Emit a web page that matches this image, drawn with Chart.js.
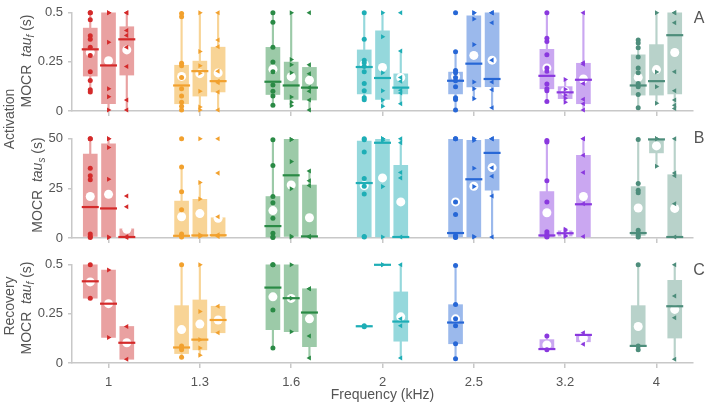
<!DOCTYPE html>
<html lang="en">
<head>
<meta charset="UTF-8">
<title>MOCR time constants by frequency</title>
<script src="https://cdn.jsdelivr.net/npm/chart.js"></script>
<style>
  body { margin: 0; background: #fff; font-family: "Liberation Sans", Arial, sans-serif; color: #555; }
  #wrap { position: relative; width: 708px; height: 407px; overflow: hidden; }
  .panel { position: absolute; left: 0; width: 708px; }
  .ytitle { position: absolute; white-space: nowrap; font-size: 14px; transform: translate(-50%, -50%) rotate(-90deg); }
  .ytitle sub { font-size: 10px; }
  .tag { position: absolute; font-size: 16px; transform: translate(-50%, -50%); }
</style>
</head>
<body>
<div id="wrap">
  <div class="panel" style="top:0;height:125px"><canvas id="chartA"></canvas></div>
  <div class="panel" style="top:126px;height:126px"><canvas id="chartB"></canvas></div>
  <div class="panel" style="top:252px;height:155px"><canvas id="chartC"></canvas></div>

  <div class="ytitle" style="left:9px;top:119px">Activation</div>
  <div class="ytitle" style="left:27px;top:61px">MOCR&nbsp;&nbsp;<i>tau<sub>f</sub></i> (s)</div>
  <div class="ytitle" style="left:38px;top:185px">MOCR&nbsp;&nbsp;<i>tau<sub>s</sub></i> (s)</div>
  <div class="ytitle" style="left:9px;top:306px">Recovery</div>
  <div class="ytitle" style="left:27px;top:308px">MOCR&nbsp;&nbsp;<i>tau<sub>f</sub></i> (s)</div>

  <div class="tag" style="left:699px;top:18px">A</div>
  <div class="tag" style="left:699px;top:138px">B</div>
  <div class="tag" style="left:699px;top:270px">C</div>
</div>

<script>
const freqLabels = ['1', '1.3', '1.6', '2', '2.5', '3.2', '4'];
const darkColors = ['#d42a2a', '#f2a12e', '#2a8a45', '#1eaeb6', '#2767d6', '#8a38de', '#4d8d7b'];
const lightColors = ['#e9a1a1', '#f8d496', '#9ccaa8', '#95d8dc', '#9bb9ec', '#caa7f1', '#b8d2ca'];
// three boxes per frequency: circles, right triangles, left triangles
const slotOffsets = [-0.2, 0, 0.2];

// ---- panel A: activation tau_f (s) ----  index = freq*3 + slot
const aQ1   = [.178,.037,.183, .037,.076,.097, .084,.059,.056, .087,.059,.087, .087,.122,.124, .113,.063,.037, .081,.081,.087];
const aQ3   = [.422,.5,.429,   .233,.254,.325, .324,.249,.222, .311,.408,.189, .198,.484,.5,   .314,.124,.243, .286,.338,.5];
const aMed  = [.314,.232,.365, .13,.203,.152,  .149,.13,.119,  .224,.168,.119, .154,.241,.163, .179,.095,.159, .13,.152,.386];
const aMean = [.298,.256,.311, .176,.19,.194,  .213,.175,.157, .238,.222,.17,  .176,.283,.259, .219,.1,.163,   .171,.211,.298];
const aLo   = [.1,0,.005,      .005,.005,.005, .029,.024,.005, .052,.024,.037, .005,.063,.017, .048,.044,0,    .017,.04,.008];
const aHi   = [.5,.5,.5,       .5,.5,.5,       .5,.5,.235,     .5,.5,.306,     .302,.5,.5,     .5,.16,.5,      .362,.5,.5];
const aPts = [
  [.5,.5,.465,.383,.365,.325,.283,.2,.155,.108,.097], [.5,.5,.35,.113,.073,.005], [.5,.5,.41,.385,.325,.227,.056,.005],
  [.497,.48,.243,.23,.171,.113,.076,.044,.024,.005], [.5,.303,.23,.192,.1,.02,.005], [.5,.362,.327,.203,.152,.144,.097,.005],
  [.5,.452,.325,.25,.2,.132,.1,.076,.029], [.5,.262,.235,.195,.071,.044,.027], [.5,.235,.19,.119,.1,.056,.005],
  [.5,.365,.259,.246,.227,.2,.14,.103,.068,.057], [.5,.378,.195,.103,.056,.024], [.5,.306,.171,.152,.106,.092,.037],
  [.5,.302,.206,.195,.171,.154,.124,.068,.059,.005], [.5,.5,.468,.338,.148,.113,.063], [.5,.5,.5,.449,.259,.148,.108,.017],
  [.5,.37,.354,.287,.219,.203,.137,.113,.103,.048], [.16,.111,.081,.065,.044], [.5,.246,.238,.14,.06,.037,.005],
  [.362,.346,.322,.275,.219,.195,.14,.124,.084,.017], [.5,.198,.124,.04], [.5,.5,.449,.2,.103,.056,.029,.013]
];

// ---- panel B: activation tau_s (s) ----
const bQ1   = [.8,.5,.5,      .5,.5,.5,       .5,.8,.8,        .5,.5,.5,       .5,.5,24.1,      .5,1,.5,       1.3,42.9,.5];
const bQ3   = [42.3,47.5,4.6, 18.6,19.5,10.2, 20.9,49.7,26.7,  48.9,49.7,36.6, 49.7,49.2,49.7, 23.4,3.6,41.7, 25.9,49.7,31.9];
const bMed  = [15.6,14.9,.5,  1.1,1.3,1.4,    6,31.6,.8,       27.7,48,.5,     2.5,29.6,42.9,  1.3,2.4,17,    2.5,49.7,.5];
const bMean = [20.9,22,4.4,   10.7,12.3,9.9,  13.8,26.7,10.2,  26.4,30.3,18.2, 18.2,26.1,35.5, 12.7,2.4,20.9, 15.1,46.4,14.9];
const bLo   = [0,0,0,         0,0,0,          0,0,0,           0,0,0,          0,0,.5,         0,.5,0,        0,36.2,0];
const bHi   = [50,50,4.6,     35.8,28.5,10.2, 49.5,50,33.8,    50,50,50,       50,50,50,       49.2,4.4,50,   49.7,49.7,50];
const bPts = [
  [50,50,35.1,31.4,29.4,2,.8,.2], [50,50,45.6,29.6,.5,.2], [21.2,15.7,.8,.3],
  [50,35.8,23.3,14.3,2,1.3,.5], [50,28,19.7,1.6,.8], [50,32.7,10.7,1.6,.8],
  [49.5,36.6,20.9,17.8,9.9,2.4,.5,.2], [49.7,49.7,38.5,24.8,.9,.5], [33.8,28.8,26.4,.9,.5],
  [50,49.5,43.4,30,26.1,22.2,.8,.5], [50,50,50,49.2,25.9,.5], [50,48,33,30.3,.5],
  [50,50,18.2,11.8,1.3,.5,.2], [50,50,49.2,35.1,25.9,.8,.5], [50,50,50,35.4,31.1,21.2,.5],
  [49.2,48.4,28.8,18.2,3.1,2,.8,.5], [4.4,3.6,1.3,.8], [50,50,41.7,33,17.3,.8],
  [49.7,27.5,24.1,22.8,3.9,2.4,1.3,.5], [50,50,50,36.2], [50,32.7,31.4,17.3,.5]
];

// ---- panel C: recovery tau_f (s) ----  null = no data for that box
const cQ1   = [.33,.13,.019,  .048,.067,.154, .17,.159,.083,  .185,.5,.111,  .098,null,null, .071,null,.108, .087,null,.127];
const cQ3   = [.5,.473,.186,  .292,.321,.289, .5,.5,.378,     .19,.5,.362,   .297,null,null, .119,null,.143, .292,null,.421];
const cMed  = [.416,.302,.103, .079,.119,.219, .384,.33,.257, .187,.5,.211,  .206,null,null, .071,null,.143, .087,null,.289];
const cMean = [.413,.302,.103, .17,.198,.219,  .337,.329,.225, .187,.5,.235, .225,null,null, .092,null,.127, .186,null,.273];
const cLo   = [.33,.13,.019,  .029,.04,.154,  .076,.159,.025, .185,.5,.025,  .022,null,null, .067,null,.095, .067,null,.019];
const cHi   = [.5,.473,.186,  .5,.5,.289,     .5,.5,.378,     .19,.5,.5,     .497,null,null, .138,null,.154, .5,null,.5];
const cPts = [
  [.5,.33], [.473,.13], [.186,.019],
  [.5,.087,.076,.067,.029], [.5,.262,.119,.076,.04], [.289,.154],
  [.5,.5,.27,.076], [.5,.33,.159], [.378,.378,.138,.025],
  [.19,.185], [.5,.5], [.5,.225,.19,.025],
  [.497,.298,.225,.19,.098,.022], [], [],
  [.138,.067], [], [.154,.095],
  [.5,.087,.067], [], [.5,.341,.23,.019]
];

function buildDatasets(q1, q3, med, mean, lo, hi, pts) {
  const whisk = [], boxes = [], meds = [], means = [], dots = [];
  const whiskCol = [], boxCol = [], medCol = [], dotCol = [], dotStyle = [], dotRot = [], dotRad = [];
  for (let i = 0; i < q1.length; i++) {
    const g = Math.floor(i / 3), s = i % 3;
    const x = g + slotOffsets[s];
    if (q1[i] !== null) {
      whisk.push({ x: x, y: [lo[i], hi[i]] }); whiskCol.push(lightColors[g]);
      boxes.push({ x: x, y: [q1[i], q3[i]] }); boxCol.push(lightColors[g]);
      meds.push({ x: x, y: med[i] }); medCol.push(darkColors[g]);
      means.push({ x: x, y: mean[i] });
    }
    pts[i].forEach(v => {
      dots.push({ x: x, y: v });
      dotCol.push(darkColors[g]);
      dotStyle.push(s === 0 ? 'circle' : 'triangle');
      dotRot.push(s === 1 ? 90 : (s === 2 ? -90 : 0));
      dotRad.push(s === 0 ? 2.5 : 2.9);
    });
  }
  return [
    { type: 'bar', data: whisk, backgroundColor: whiskCol, barThickness: 1.5, grouped: false, order: 5, clip: false },
    { type: 'bar', data: boxes, backgroundColor: boxCol, barThickness: 14, grouped: false, order: 4, clip: false },
    { type: 'scatter', data: means, pointStyle: 'circle', pointRadius: 4.5, backgroundColor: '#fff', borderWidth: 0, order: 3, clip: false },
    { type: 'scatter', data: meds, pointStyle: 'line', pointRadius: 8.5, borderColor: medCol, pointBorderWidth: 2.2, order: 2, clip: false },
    { type: 'scatter', data: dots, pointStyle: dotStyle, pointRotation: dotRot, pointRadius: dotRad,
      backgroundColor: dotCol, borderColor: dotCol, borderWidth: 0, order: 1, clip: false }
  ];
}

const axisGrey = '#c8c8c8';

function makeChart(id, datasets, yMax, yLabels, isBottom) {
  new Chart(document.getElementById(id), {
    type: 'bar',
    data: { datasets: datasets },
    options: {
      responsive: true,
      maintainAspectRatio: false,
      animation: false,
      layout: { padding: { top: 6, right: 15, left: 0, bottom: 0 } },
      plugins: { legend: { display: false }, tooltip: { enabled: false } },
      scales: {
        x: {
          type: 'linear', min: -0.4, max: 6.4, offset: false,
          afterBuildTicks: s => { s.ticks = freqLabels.map((_, i) => ({ value: i })); },
          afterFit: s => { s.height = isBottom ? 44 : 14; },
          ticks: { display: isBottom, callback: v => freqLabels[v], padding: 7, color: '#555', font: { size: 13 }, maxRotation: 0 },
          grid: { offset: false, drawOnChartArea: false, drawTicks: true, tickLength: 5, color: axisGrey, lineWidth: 1.5 },
          border: { display: true, color: axisGrey, width: 1.5 },
          title: { display: isBottom, text: 'Frequency (kHz)', color: '#555', font: { size: 14 }, padding: { top: 0, bottom: 3 } }
        },
        y: {
          min: 0, max: yMax,
          afterBuildTicks: s => { s.ticks = [0, yMax / 2, yMax].map(v => ({ value: v })); },
          afterFit: s => { s.width = 72; },
          ticks: { callback: (v, i) => yLabels[i], padding: 5, color: '#555', font: { size: 13 } },
          grid: { drawOnChartArea: false, drawTicks: true, tickLength: 4, color: axisGrey, lineWidth: 1.5 },
          border: { display: true, color: axisGrey, width: 1.5 }
        }
      }
    }
  });
}

Chart.defaults.font.family = '"Liberation Sans", Arial, sans-serif';

makeChart('chartA', buildDatasets(aQ1, aQ3, aMed, aMean, aLo, aHi, aPts), 0.5, ['0', '0.25', '0.5'], false);
makeChart('chartB', buildDatasets(bQ1, bQ3, bMed, bMean, bLo, bHi, bPts), 50, ['0', '25', '50'], false);
makeChart('chartC', buildDatasets(cQ1, cQ3, cMed, cMean, cLo, cHi, cPts), 0.5, ['0', '0.25', '0.5'], true);
</script>
</body>
</html>
